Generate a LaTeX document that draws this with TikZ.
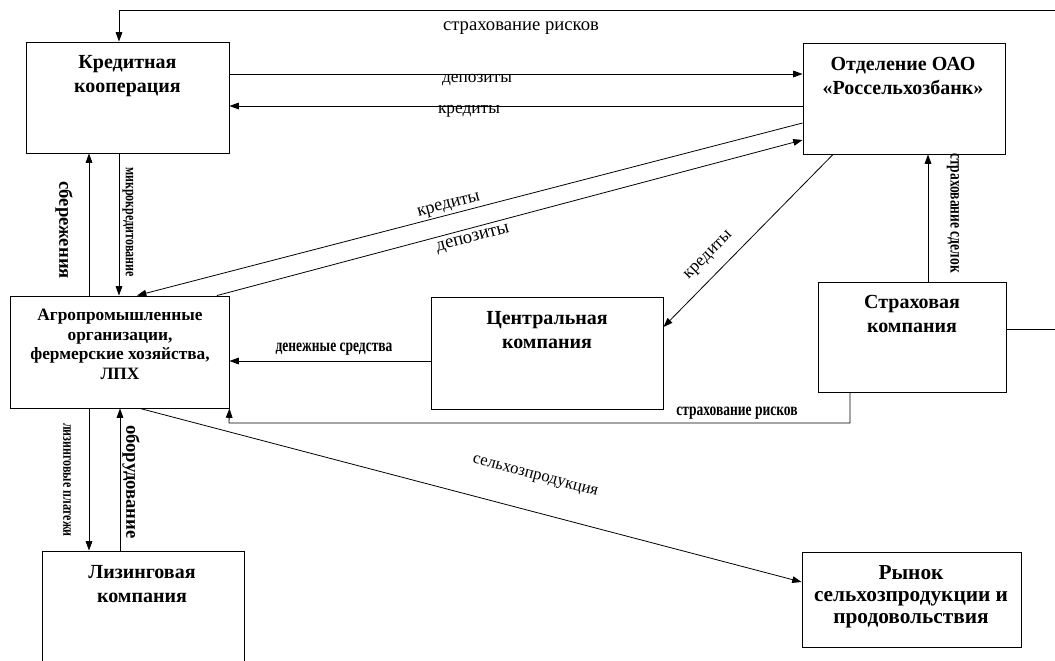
\documentclass[tikz,border=0pt]{standalone}
\usepackage{fontspec}
\setmainfont{Liberation Serif}
\newfontfamily\condfont{Liberation Serif}[FakeStretch=0.75]
\usetikzlibrary{arrows.meta,calc}
\begin{document}
\begin{tikzpicture}[x=0.75pt,y=-0.75pt,
  box/.style={draw, line width=0.7pt, inner sep=0pt},
  boxtext/.style={font=\fontsize{15}{18}\selectfont\bfseries, align=center, anchor=north, inner sep=0pt},
  smalltext/.style={font=\fontsize{13}{14.6}\selectfont\bfseries, align=center, anchor=north, inner sep=0pt},
  flow/.style={line width=0.6pt, -{Triangle[length=7pt,width=5pt]}},
  lab/.style={font=\fontsize{13}{14}\selectfont, inner sep=0pt},
  blab/.style={font=\fontsize{14}{15}\selectfont\bfseries, inner sep=0pt},
  clab/.style={font=\fontsize{13.5}{14}\selectfont\condfont\bfseries, inner sep=0pt}]
\useasboundingbox (0,0) rectangle (1055,660);

% boxes
\node[box, minimum width=203*0.75pt, minimum height=111*0.75pt] (kk) at (127.5,97.5) {};
\node[box, minimum width=202*0.75pt, minimum height=111*0.75pt] (bank) at (904,98.5) {};
\node[box, minimum width=219*0.75pt, minimum height=112*0.75pt] (agro) at (119.5,352) {};
\node[box, minimum width=232*0.75pt, minimum height=112*0.75pt] (central) at (547,353) {};
\node[box, minimum width=188*0.75pt, minimum height=110*0.75pt] (insur) at (912,337) {};
\node[box, minimum width=202*0.75pt, minimum height=130*0.75pt] (leasing) at (143,616) {};
\node[box, minimum width=219*0.75pt, minimum height=95*0.75pt] (market) at (911.5,599.5) {};

% box texts
\node[boxtext] (kkt) at (127.5,55) {Кредитная\\кооперация};
\node[boxtext] (bankt) at (903,57) {Отделение ОАО\\«Россельхозбанк»};
\node[smalltext] (agrot) at (120,309) {Агропромышленные\\организации,\\фермерские хозяйства,\\ЛПХ};
\node[boxtext] (centralt) at (547,311) {Центральная\\компания};
\node[boxtext] (insurt) at (912,295) {Страховая\\компания};
\node[boxtext] (leasingt) at (142,565) {Лизинговая\\компания};
\node[smalltext, font=\fontsize{16}{16.5}\selectfont\bfseries] (markett) at (911,565) {Рынок\\сельхозпродукции и\\продовольствия};

% corner coordinates of the outer loops
\coordinate (c1) at (1070,329);
\coordinate (c2) at (1070,10);
\coordinate (c3) at (119,10);
\coordinate (c4) at (850,423);
\coordinate (c5) at (229,423);

% connectors
\draw[flow] (insur.east |- c1) -- (c1) -- (c2) -- (c3) -- (kk.north -| c3);
\node[lab, font=\fontsize{14}{15}\selectfont] (l1) at (521,28) {страхование рисков};

\draw[flow] (kk.east |- 0,74) -- (bank.west |- 0,74);
\node[lab] (l2) at (477,80) {депозиты};
\draw[flow] (bank.west |- 0,106) -- (kk.east |- 0,106);
\node[lab] (l3) at (469,111) {кредиты};

\draw[flow] (bank.west |- 0,123) -- (agro.north -| 137,0);
\node[lab, font=\fontsize{13.5}{14}\selectfont, rotate=14.6] (l4) at (449,206) {кредиты};
\draw[flow] (agro.north -| 217,0) -- (bank.west |- 0,140);
\node[lab, font=\fontsize{14}{15}\selectfont, rotate=14.9] (l5) at (473,239) {депозиты};

\draw[flow] (bank.south -| 833,0) -- (central.east |- 0,327);
\node[lab, rotate=45] (l6) at (709,256) {кредиты};

\draw[flow] (central.west |- 0,361) -- (agro.east |- 0,361);
\node[clab] (l7) at (334,349) {денежные средства};

\draw[flow] (agro.north -| 89,0) -- (kk.south -| 89,0);
\node[blab, rotate=-90] (l8) at (64,230) {сбережения};
\draw[flow] (kk.south -| 119,0) -- (agro.north -| 119,0);
\node[clab, font=\fontsize{12}{13}\selectfont\condfont\bfseries, rotate=-90] (l9) at (128,222) {микрокредитование};

\draw[flow] (agro.south -| 89,0) -- (leasing.north -| 89,0);
\node[clab, font=\fontsize{12}{13}\selectfont\condfont\bfseries, rotate=-90] (l10) at (67,480) {лизинговые платежи};
\draw[flow] (leasing.north -| 120,0) -- (agro.south -| 120,0);
\node[blab, font=\fontsize{14}{15}\selectfont\bfseries, rotate=-90] (l11) at (131,482) {оборудование};

\draw[flow] (insur.north -| 928,0) -- (bank.south -| 928,0);
\node[clab, rotate=-90] (l12) at (953,213) {страхование сделок};

\draw[flow] (insur.south -| c4) -- (c4) -- (c5) -- (agro.south east);
\node[clab] (l13) at (737,413) {страхование рисков};

\draw[flow] (agro.south -| 140,0) -- (market.west |- 0,582);
\node[lab, font=\fontsize{12.5}{13}\selectfont, rotate=-15] (l14) at (535,477) {сельхозпродукция};
\end{tikzpicture}
\end{document}
